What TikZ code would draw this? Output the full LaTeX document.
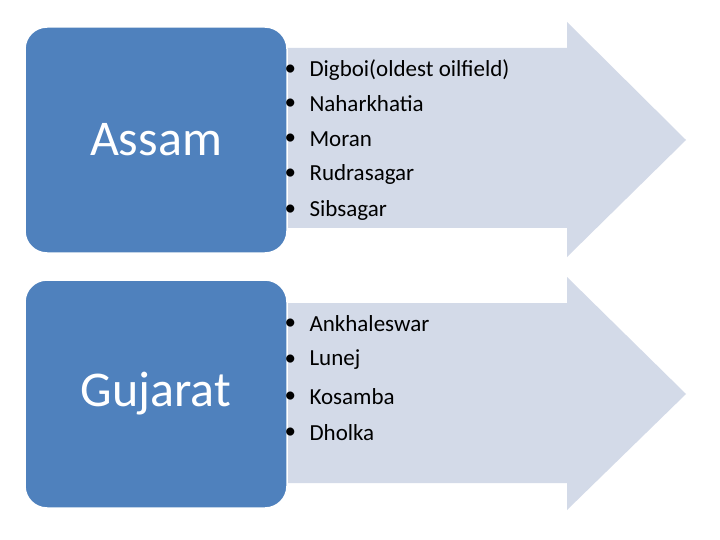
\documentclass[tikz,border=0pt]{standalone}
\usepackage{fontspec}
\setmainfont{Carlito}
\definecolor{boxblue}{HTML}{4F81BD}
\definecolor{arrowgray}{HTML}{D3DAE8}
\begin{document}
\begin{tikzpicture}[x=1pt,y=-1pt,
  statebox/.style={fill=boxblue,draw=white,line width=1.5pt,rounded corners=22pt},
  arrowshape/.style={fill=arrowgray,draw=none},
  bigtext/.style={text=white,font=\fontsize{50}{60}\selectfont},
  itemtext/.style={anchor=west,font=\fontsize{23}{27}\selectfont}]
\useasboundingbox (0,0) rectangle (720,540);
\fill[white] (0,0) rectangle (720,540);
% arrows
\path[arrowshape] (270,48) -- (567,48) -- (567,22) -- (686,140) -- (567,257) -- (567,228) -- (270,228) -- cycle;
\path[arrowshape] (270,303) -- (567,303) -- (567,277) -- (686,394) -- (567,510) -- (567,483) -- (270,483) -- cycle;
% boxes
\path[statebox] (25,27) rectangle (287,253);
\path[statebox] (25,280) rectangle (287,508);
\node[bigtext] (assam) at (156,140) {Assam};
\node[bigtext] (guj) at (156,394) {Gujarat};
% items
\foreach \t/\y [count=\i] in {Digboi(oldest oilfield)/70,Naharkhatia/104,Moran/139,Rudrasagar/174,Sibsagar/210}{
  \node[itemtext] (b\i) at (281,\y) {•};
  \node[itemtext] (a\i) at (306,\y) {\t};
}
\foreach \t/\y [count=\i] in {Ankhaleswar/324,Lunej/360,Kosamba/397,Dholka/433}{
  \node[itemtext] (d\i) at (281,\y) {•};
  \node[itemtext] (c\i) at (306,\y) {\t};
}
\end{tikzpicture}
\end{document}
